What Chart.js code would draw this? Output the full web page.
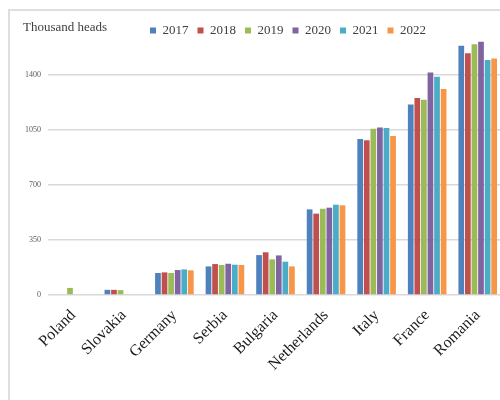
<!DOCTYPE html>
<html>
<head>
<meta charset="utf-8">
<script src="https://cdn.jsdelivr.net/npm/chart.js@4/dist/chart.umd.min.js"></script>
<style>
  html, body { margin: 0; padding: 0; background: #fff; overflow: hidden; width: 500px; height: 400px; }
  #frame { position: absolute; left: 8px; top: 9px; width: 600px; height: 500px;
           border-left: 2px solid #dedede; border-top: 2px solid #dedede; }
  #wrap { position: absolute; left: 10px; top: 11px; width: 500px; height: 389px; }
  #ytitle { position: absolute; left: 23px; top: 19px; font-family: "Liberation Serif", serif;
            font-size: 13px; color: #404040; white-space: nowrap; }
</style>
</head>
<body>
<div id="frame"></div>
<div id="wrap"><canvas id="c" width="500" height="389"></canvas></div>
<div id="ytitle">Thousand heads</div>
<script>
const countries = ["Poland", "Slovakia", "Germany", "Serbia", "Bulgaria", "Netherlands", "Italy", "France", "Romania"];
const years = ["2017", "2018", "2019", "2020", "2021", "2022"];
const v2017 = [null, 33, 140, 182, 254, 545, 993, 1213, 1587];
const v2018 = [null, 33, 144, 197, 272, 518, 986, 1254, 1540];
const v2019 = [45, 31, 140, 191, 227, 549, 1059, 1243, 1597];
const v2020 = [null, null, 159, 199, 252, 556, 1067, 1417, 1612];
const v2021 = [null, null, 163, 193, 212, 575, 1063, 1389, 1496];
const v2022 = [null, null, 157, 191, 182, 571, 1012, 1311, 1506];
const yTicks = [0, 350, 700, 1050, 1400];

const seriesValues = [v2017, v2018, v2019, v2020, v2021, v2022];
const colors = ["#4F81BD", "#C0504D", "#9BBB59", "#8064A2", "#4BACC6", "#F79646"];

const datasets = years.map((y, i) => ({
  label: y,
  data: seriesValues[i],
  backgroundColor: colors[i],
  borderWidth: 0,
  categoryPercentage: 0.78,
  barPercentage: 0.87
}));

const layoutFix = {
  id: 'layoutFix',
  beforeLayout(chart) {
    const lg = chart.legend;
    if (lg && !lg._patched) {
      const f = lg.fit;
      lg.fit = function () { f.call(this); this.height = 13; };
      lg._patched = true;
    }
  },
  afterLayout(chart) {
    const lg = chart.legend;
    if (lg) {
      const c = (lg.left + lg.right) / 2;
      const dx = 278 - c;
      lg.left += dx; lg.right += dx;
      lg.bottom = lg.top + 40;
    }
  }
};

new Chart(document.getElementById('c'), {
  type: 'bar',
  data: { labels: countries, datasets },
  plugins: [layoutFix],
  options: {
    responsive: false,
    animation: false,
    layout: { padding: { top: 4, right: 7, bottom: 0, left: 0 } },
    plugins: {
      legend: {
        position: 'top',
        labels: {
          boxWidth: 6, boxHeight: 6, padding: 9,
          color: '#404040',
          font: { family: 'Liberation Serif', size: 13 }
        }
      },
      tooltip: { enabled: false }
    },
    scales: {
      x: {
        grid: { display: false },
        border: { display: false },
        ticks: {
          minRotation: 45, maxRotation: 45, padding: 3,
          color: '#1a1a1a',
          font: { family: 'Liberation Serif', size: 16 }
        },
        afterFit(s) { s.height = 105; }
      },
      y: {
        min: 0, max: 1700,
        grid: { color: '#d9d9d9', lineWidth: 1.5, drawTicks: false },
        border: { display: false },
        ticks: {
          padding: 7, color: '#595959',
          font: { family: 'Liberation Serif', size: 8 },
          callback: v => String(v)
        },
        afterBuildTicks(s) { s.ticks = yTicks.map(v => ({ value: v })); },
        afterFit(s) { s.width = 38; }
      }
    }
  }
});
</script>
</body>
</html>
